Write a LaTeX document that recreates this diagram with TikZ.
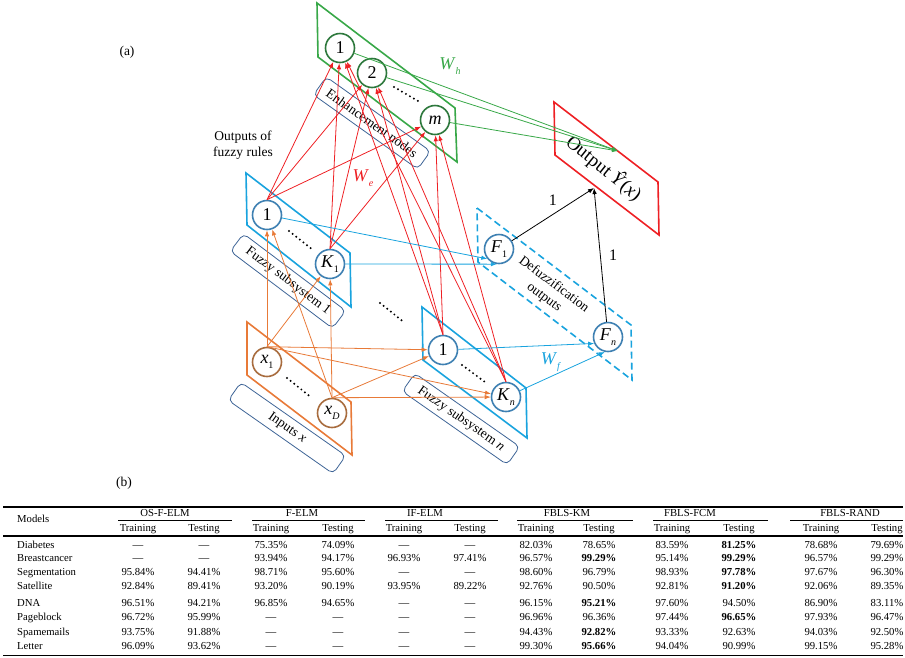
\documentclass[tikz,border=0pt]{standalone}
\usepackage{fontspec}
\setmainfont{Liberation Serif}
\usepackage{tikz}
\usetikzlibrary{arrows.meta,positioning,calc}
\definecolor{EnhGreen}{RGB}{56,168,72}
\definecolor{EnhNode}{RGB}{45,120,60}
\definecolor{FuzzBlue}{RGB}{25,163,222}
\definecolor{FuzzNode}{RGB}{62,128,178}
\definecolor{InOrange}{RGB}{232,122,56}
\definecolor{InNode}{RGB}{168,108,62}
\definecolor{WeRed}{RGB}{238,32,36}
\definecolor{BoxBlue}{RGB}{62,100,150}
\newcommand{\lowidx}[1]{\raisebox{-0.3em}{\fontsize{10}{10}\selectfont #1}}

\begin{document}
\begin{tikzpicture}[x=1pt,y=-1pt,
    neuron/.style={circle, draw, line width=1.6pt, minimum size=29pt, inner sep=0pt, fill=white, font=\fontsize{18}{18}\selectfont},
    tag/.style={draw=BoxBlue, line width=0.8pt, rounded corners=5pt, minimum width=128pt, minimum height=22pt, inner sep=1pt, font=\fontsize{13.5}{16}\selectfont},
    plane/.style={line width=1.6pt},
    conn/.style={line width=0.8pt, -{Latex[length=6pt,width=4.5pt]}},
    dots/.style={line width=2.2pt, line cap=round, dash pattern=on 0pt off 4.6pt},
    txt/.style={font=\fontsize{13.5}{16}\selectfont},
    wlab/.style={font=\fontsize{18}{18}\selectfont},
    cell/.style={font=\fontsize{10.7}{12}\selectfont, inner sep=0pt, anchor=base}]
  \useasboundingbox (0,0) rectangle (905,657);

  % layers
  \draw[plane, EnhGreen] (317,3) -- (455,108) -- (457,162) -- (318,57) -- cycle;
  \draw[plane, WeRed] (554,102) -- (658,182) -- (659,235) -- (555,155) -- cycle;
  \draw[plane, FuzzBlue, dash pattern=on 7pt off 4pt] (477,208) -- (631,325) -- (632,380) -- (478,262) -- cycle;
  \draw[plane, FuzzBlue] (246,173) -- (350,253) -- (351,307) -- (247,225) -- cycle;
  \draw[plane, FuzzBlue] (422,307) -- (526,388) -- (527,438) -- (423,360) -- cycle;
  \draw[plane, InOrange] (247,322) -- (351,402) -- (352,455) -- (247,375) -- cycle;

  % neurons
  \node[neuron, draw=EnhNode] (e1) at (340,48) {1};
  \node[neuron, draw=EnhNode] (e2) at (372,73) {2};
  \node[neuron, draw=EnhNode] (em) at (435,120) {\textit{m}};
  \node[neuron, draw=FuzzNode] (r11) at (267,215) {1};
  \node[neuron, draw=FuzzNode] (r1K) at (330,264) {\textit{K}\lowidx{1}};
  \node[neuron, draw=FuzzNode] (rn1) at (443,350) {1};
  \node[neuron, draw=FuzzNode] (rnK) at (506,397) {\textit{K}\lowidx{\textit{n}}};
  \node[neuron, draw=InNode] (x1) at (267,362) {\textit{x}\lowidx{1}};
  \node[neuron, draw=InNode] (xD) at (332,413) {\textit{x}\lowidx{\textit{D}}};
  \node[neuron, draw=FuzzNode] (F1) at (499,249) {\textit{F}\lowidx{1}};
  \node[neuron, draw=FuzzNode] (Fn) at (608,337) {\textit{F}\lowidx{\textit{n}}};
  \coordinate (outpt) at (594,188);
  \coordinate (whpt) at (618,151);

  % tags
  \node[tag, rotate=-35.5] (enhtag) at (372,123) {Enhancement nodes};
  \node[tag, rotate=-37] (sub1tag) at (288,281) {Fuzzy subsystem 1};
  \node[tag, rotate=-35] (subntag) at (461,419) {Fuzzy subsystem \textit{n}};
  \node[tag, rotate=-35] (intag) at (287,428) {Inputs \textit{x}};
  \node[txt, align=center] (rulestxt) at (243,145) {Outputs of\\fuzzy rules};
  \node[txt, align=center, rotate=-37] (deftxt) at (549,291) {Defuzzification\\outputs};
  \node[font=\fontsize{19}{19}\selectfont, rotate=-39] (outtxt) at (604,168) {Output \textit{Ŷ}(\textit{x})};
  \node[txt] (alab) at (127,52) {(a)};
  \node[txt] (blab) at (124,483) {(b)};

  % connections
  \foreach \x in {x1,xD}
    \foreach \r in {r11,r1K,rn1,rnK}
      \draw[conn, InOrange] (\x.north) -- (\r);
  \foreach \r in {r11,r1K,rn1,rnK}
    \foreach \e in {e1,e2,em}
      \draw[conn, WeRed] (\r.north) -- (\e);
  \foreach \e in {e1,e2,em}
    \draw[conn, EnhGreen] (\e) -- (whpt);
  \draw[conn, FuzzBlue] (r11) -- (F1.220);
  \draw[conn, FuzzBlue] (r1K) -- (F1.262);
  \draw[conn, FuzzBlue] (rn1) -- (Fn.205);
  \draw[conn, FuzzBlue] (rnK) -- (Fn.258);
  \draw[conn] (F1) -- node[midway, above=5pt, font=\fontsize{16}{16}\selectfont] {1} (outpt);
  \draw[conn] (Fn) -- node[midway, right=5pt, font=\fontsize{16}{16}\selectfont] {1} (outpt);

  \node[wlab, text=EnhGreen] (wh) at (450,66) {\textit{W}\lowidx{\textit{h}}};
  \node[wlab, text=WeRed] (we) at (363,178) {\textit{W}\lowidx{\textit{e}}};
  \node[wlab, text=FuzzBlue] (wf) at (551,362) {\textit{W}\lowidx{\textit{f}}};

  \draw[dots] (394,87) -- (418,101);
  \draw[dots] (289,231) -- (313,250);
  \draw[dots] (380,303) -- (405,323);
  \draw[dots] (462,365) -- (485,382);
  \draw[dots] (287,378) -- (312,398);

  % table
  \draw[line width=1.5pt] (3,507) -- (903,507);
  \draw[line width=1.1pt] (3,536) -- (903,536);
  \draw[line width=1.5pt] (3,655.5) -- (903,655.5);
  \foreach \ca/\cb in {118/232,252/365,385/498,517/633,653/768,790/903}
    \draw[line width=0.6pt] (\ca,520) -- (\cb,520);
  \node[cell, anchor=base west] at (17,522.6) {Models};
  \foreach \gx/\gname in {165/OS-F-ELM,302/F-ELM,425/IF-ELM,567/FBLS-KM,690/FBLS-FCM,850/FBLS-RAND}
    \node[cell] at (\gx,516.6) {\gname};
  \foreach \cx [count=\i] in {138,204,271,338,404,470,536,599,672,739,821,887}{
    \pgfmathsetmacro\odd{mod(\i,2)}
    \ifdim\odd pt=1pt
      \node[cell] at (\cx,531.6) {Training};
    \else
      \node[cell] at (\cx,531.6) {Testing};
    \fi
  }
  \foreach \ry/\rname/\rvals in {
      545/Diabetes/{—,—,75.35\%,74.09\%,—,—,82.03\%,78.65\%,83.59\%,\textbf{81.25\%},78.68\%,79.69\%},
      558/Breastcancer/{—,—,93.94\%,94.17\%,96.93\%,97.41\%,96.57\%,\textbf{99.29\%},95.14\%,\textbf{99.29\%},96.57\%,99.29\%},
      572/Segmentation/{95.84\%,94.41\%,98.71\%,95.60\%,—,—,98.60\%,96.79\%,98.93\%,\textbf{97.78\%},97.67\%,96.30\%},
      586/Satellite/{92.84\%,89.41\%,93.20\%,90.19\%,93.95\%,89.22\%,92.76\%,90.50\%,92.81\%,\textbf{91.20\%},92.06\%,89.35\%},
      603/DNA/{96.51\%,94.21\%,96.85\%,94.65\%,—,—,96.15\%,\textbf{95.21\%},97.60\%,94.50\%,86.90\%,83.11\%},
      617/Pageblock/{96.72\%,95.99\%,—,—,—,—,96.96\%,96.36\%,97.44\%,\textbf{96.65\%},97.93\%,96.47\%},
      632/Spamemails/{93.75\%,91.88\%,—,—,—,—,94.43\%,\textbf{92.82\%},93.33\%,92.63\%,94.03\%,92.50\%},
      646/Letter/{96.09\%,93.62\%,—,—,—,—,99.30\%,\textbf{95.66\%},94.04\%,90.99\%,99.15\%,95.28\%}}{
    \node[cell, anchor=base west] at (17,\ry+3.7) {\rname};
    \foreach \v [count=\i] in \rvals {
      \pgfmathsetmacro\cx{{138,204,271,338,404,470,536,599,672,739,821,887}[\i-1]}
      \node[cell] at (\cx,\ry+3.7) {\v};
    }
  }
\end{tikzpicture}
\end{document}
